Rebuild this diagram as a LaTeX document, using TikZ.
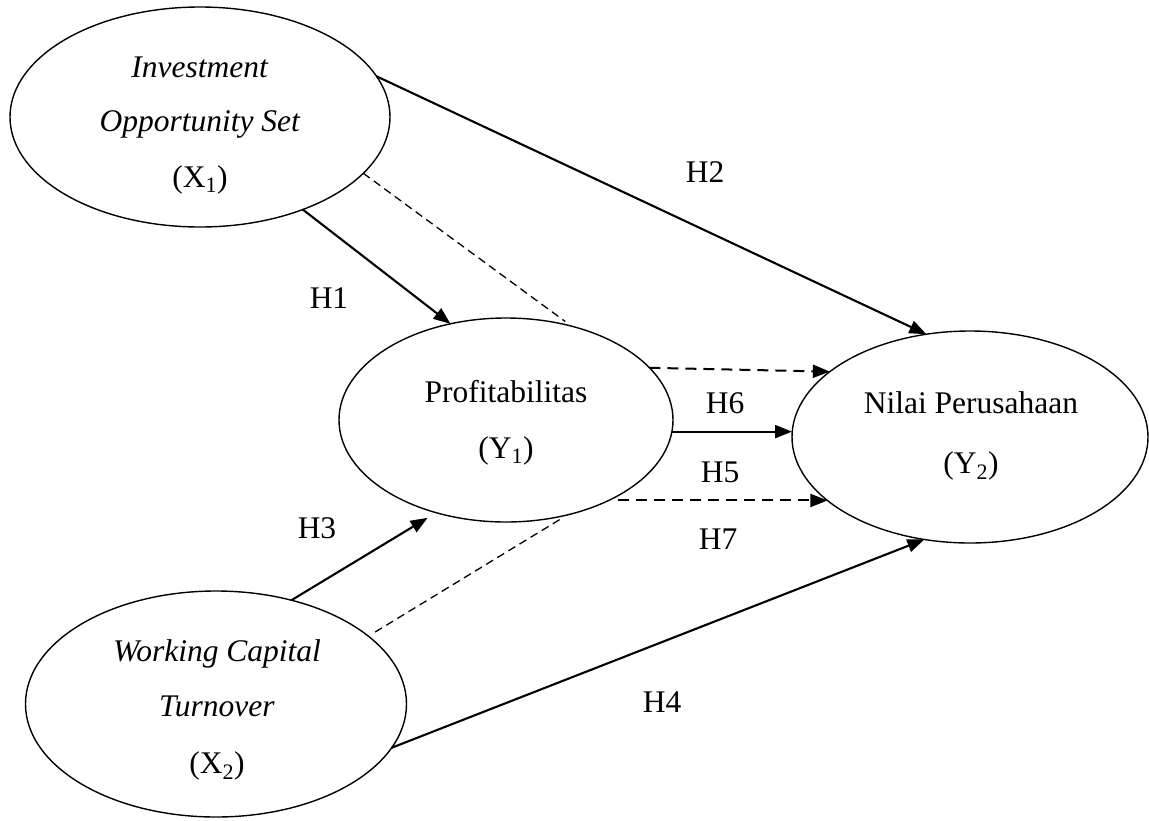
\documentclass[tikz,border=0pt]{standalone}
\usepackage{fontspec}
\setmainfont{Liberation Serif}
\usetikzlibrary{arrows.meta,shapes.geometric}
\begin{document}
\begin{tikzpicture}[x=1pt,y=-1pt,
  ell/.style={draw, ellipse, line width=1.4pt, inner sep=0pt, outer sep=0pt},
  txt/.style={font=\fontsize{31.5}{36}\selectfont, inner sep=0pt},
  conn/.style={line width=2.1pt, -{Triangle[length=17pt,width=13pt]}},
  dashthin/.style={line width=1.3pt, dash pattern=on 8pt off 5pt},
  dasharrow/.style={line width=2pt, dash pattern=on 11pt off 7pt, -{Triangle[length=17pt,width=13pt]}}]
\useasboundingbox (0,0) rectangle (1149,820);
% ellipses
\node[ell, minimum width=380pt, minimum height=220pt] (X1) at (200,117) {};
\node[ell, minimum width=334pt, minimum height=204pt] (Y1) at (506,420) {};
\node[ell, minimum width=356pt, minimum height=212pt] (Y2) at (970,437) {};
\node[ell, minimum width=381pt, minimum height=226pt] (X2) at (216,704) {};
% texts
\node[txt, anchor=base] (X1a) at (200,77) {\textit{Investment}};
\node[txt, anchor=base] (X1b) at (200,131) {\textit{Opportunity Set}};
\node[txt, anchor=base] (X1c) at (200,187) {(X\textsubscript{1})};
\node[txt, anchor=base] (Y1a) at (506,402) {Profitabilitas};
\node[txt, anchor=base] (Y1b) at (506,458) {(Y\textsubscript{1})};
\node[txt, anchor=base] (Y2a) at (971,413) {Nilai Perusahaan};
\node[txt, anchor=base] (Y2b) at (971,473) {(Y\textsubscript{2})};
\node[txt, anchor=base] (X2a) at (217,661) {\textit{Working Capital}};
\node[txt, anchor=base] (X2b) at (217,716) {\textit{Turnover}};
\node[txt, anchor=base] (X2c) at (217,773) {(X\textsubscript{2})};
% labels
\node[txt] (H1) at (329,298) {H1};
\node[txt] (H2) at (705,172) {H2};
\node[txt] (H3) at (317,528) {H3};
\node[txt] (H4) at (662,702) {H4};
\node[txt] (H5) at (720,472) {H5};
\node[txt] (H6) at (725,403) {H6};
\node[txt] (H7) at (718,539) {H7};
% connectors
\draw[conn] (X1.-42.1) -- (Y1.120.1);
\draw[conn] (X1.13.1) -- (Y2.113.5);
\draw[dashthin, shorten >=8pt] (X1.-19.8) -- (Y1.55);
\draw[conn, shorten >=10pt] (X2.54.2) -- (Y1.233.2);
\draw[dashthin, shorten <=8pt, shorten >=8pt] (X2.24.5) -- (Y1.-57);
\draw[conn] (X2.-14.2) -- (Y2.246.7);
\draw[dasharrow] (Y1.20) -- (Y2.155.7);
\draw[conn] (Y1.-4.5) -- (Y1.-4.5 -| Y2.west);
\draw[dasharrow] (Y1.-34 |- Y2.204.3) -- (Y2.204.3);
\end{tikzpicture}
\end{document}
